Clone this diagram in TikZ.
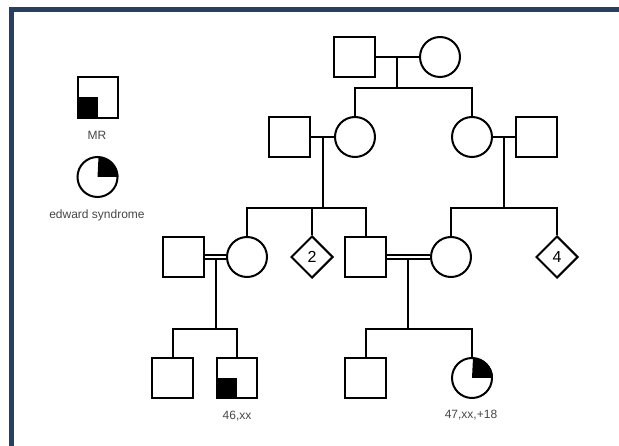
\documentclass[tikz,border=0pt]{standalone}
\usepackage{fontspec}
\setmainfont{Liberation Sans}
\usetikzlibrary{shapes.geometric}
\definecolor{framebl}{RGB}{37,64,97}
\definecolor{labgray}{RGB}{70,70,70}
\begin{document}
\begin{tikzpicture}[x=1pt,y=-1pt,
  ln/.style={line width=2pt, black},
  male/.style={draw, line width=2pt, rectangle, minimum size=40.5pt, inner sep=0pt},
  female/.style={draw, line width=2pt, circle, minimum size=40pt, inner sep=0pt},
  unkn/.style={draw, line width=2pt, diamond, minimum width=42pt, minimum height=42pt, inner sep=0pt, font=\fontsize{16}{16}\selectfont},
  lab/.style={text=labgray, font=\fontsize{12}{12}\selectfont, inner sep=0pt},
  dbl/.style={double, double distance=2.6pt, line width=1.5pt}]
\useasboundingbox (0,0) rectangle (619,446);
% frame
\fill[framebl] (9,7) rectangle (619,12);
\fill[framebl] (9,7) rectangle (14,446);

% legend
\node[male] (mr) at (98,97.5) {};
\fill (mr.south west) rectangle (mr.center);
\node[lab] (mrl) at (97,135) {MR};
\node[female] (ed) at (97.5,177) {};
\fill (ed.center) -- (ed.east) arc[start angle=0, end angle=90, radius=20pt] -- cycle;
\node[lab] (edl) at (97,215) {edward syndrome};

% generation 1
\node[male] (g1m) at (354.5,57) {};
\node[female] (g1f) at (440,57) {};
\coordinate (g1mid) at (397,57);
\coordinate (g1sib) at (397,88);
\draw[ln] (g1m.east) -- (g1f.west);
\draw[ln] (g1mid) -- (g1sib);

% generation 2
\node[male] (g2a) at (289.5,137) {};
\node[female] (g2b) at (355,137) {};
\node[female] (g2c) at (472,137) {};
\node[male] (g2d) at (536.5,137) {};
\draw[ln] (g2b.north) |- (g1sib) -| (g2c.north);
\draw[ln] (g2a.east) -- (g2b.west);
\draw[ln] (g2c.east) -- (g2d.west);
\coordinate (g2lmid) at (323,137);
\coordinate (g2lsib) at (323,208);
\coordinate (g2rmid) at (504,137);
\coordinate (g2rsib) at (504,208);
\draw[ln] (g2lmid) -- (g2lsib);
\draw[ln] (g2rmid) -- (g2rsib);

% generation 3
\node[male] (g3a) at (183.5,257) {};
\node[female] (g3b) at (247,257) {};
\node[unkn] (g3c) at (312,257) {2};
\node[male] (g3d) at (365.5,257) {};
\node[female] (g3e) at (451,257) {};
\node[unkn] (g3f) at (557,257) {4};
\draw[ln] (g3b.north) |- (g2lsib) -| (g3d.north);
\draw[ln] (g3c.north) -- (g3c.north |- g2lsib);
\draw[ln] (g3e.north) |- (g2rsib) -| (g3f.north);
\draw[dbl] (g3a.east) -- (g3b.west);
\draw[dbl] (g3d.east) -- (g3e.west);
\coordinate (g3lmid) at (216,259);
\coordinate (g3lsib) at (216,329);
\coordinate (g3rmid) at (408,259);
\coordinate (g3rsib) at (408,329);
\draw[ln] (g3lmid) -- (g3lsib);
\draw[ln] (g3rmid) -- (g3rsib);

% generation 4
\node[male] (g4a) at (172.5,378) {};
\node[male] (g4b) at (237,378) {};
\fill (g4b.south west) rectangle (g4b.center);
\node[male] (g4c) at (365.5,378) {};
\node[female] (g4d) at (472,378) {};
\fill (g4d.center) -- (g4d.east) arc[start angle=0, end angle=90, radius=20pt] -- cycle;
\draw[ln] (g4a.north) |- (g3lsib) -| (g4b.north);
\draw[ln] (g4c.north) |- (g3rsib) -| (g4d.north);
\node[lab] (l46) at (237,416) {46,xx};
\node[lab] (l47) at (471,415) {47,xx,+18};
\end{tikzpicture}
\end{document}
